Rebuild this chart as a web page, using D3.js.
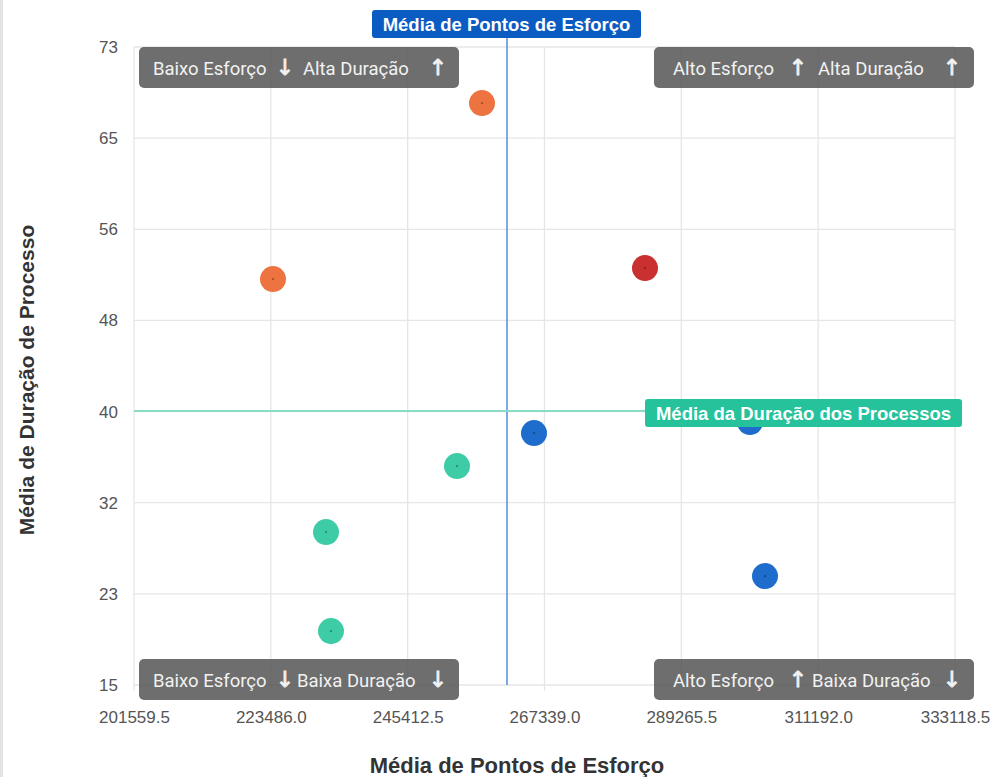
<!DOCTYPE html>
<html>
<head>
<meta charset="utf-8">
<script src="https://cdn.jsdelivr.net/npm/d3@7"></script>
<style>
  body { margin: 0; background: #fff; }
  svg { display: block; font-family: "Liberation Sans", Arial, sans-serif; }
  .tick text { fill: #555; font-size: 17px; font-family: "Liberation Sans", Arial, sans-serif; }
  .grid line { stroke: #e6e6e6; stroke-width: 1.3; }
</style>
</head>
<body>
<div id="chartDiv"></div>
<script>
// data
var xTicks = [201559.5, 223486.0, 245412.5, 267339.0, 289265.5, 311192.0, 333118.5];
var yTickLabels = [15, 23, 32, 40, 48, 56, 65, 73];
var pontos  = [257324, 223833, 283443, 265656, 300270, 302672, 253318, 232326, 233127];
var duracao = [67.9, 51.9, 52.9, 37.9, 38.9, 24.9, 34.9, 28.9, 19.9];
var grupo   = ["orange", "orange", "red", "blue", "blue", "blue", "green", "green", "green"];
var mediaPontos = 261330;
var mediaDuracao = 39.9;
// quadrant labels: [esforço text, arrow, duração text, arrow]
var quadrantes = [
  ["Baixo Esforço", "\u2193", "Alta Duração", "\u2191"],
  ["Alto Esforço", "\u2191", "Alta Duração", "\u2191"],
  ["Baixo Esforço", "\u2193", "Baixa Duração", "\u2193"],
  ["Alto Esforço", "\u2191", "Baixa Duração", "\u2193"]
];

var colors = { orange: "#ed7440", red: "#c9302f", blue: "#1e6ccb", green: "#3dcca6" };

var SVGwidth = 995, SVGheight = 777;
var plotLeft = 134, plotRight = 955, plotTop = 47, plotBottom = 685;

var svg = d3.select("#chartDiv").append("svg")
  .attr("width", SVGwidth)
  .attr("height", SVGheight);

// left frame edge
svg.append("rect").attr("x", 0).attr("y", 0).attr("width", 3).attr("height", SVGheight)
  .style("fill", "#e3e3e3");

var x = d3.scaleLinear().domain([xTicks[0], xTicks[xTicks.length - 1]]).range([plotLeft, plotRight]);
var y = d3.scaleLinear().domain([15, 73]).range([plotBottom, plotTop]);

// evenly spaced y ticks (labels are rounded)
var yTickVals = d3.range(8).map(function (i) { return 15 + i * 58 / 7; });

// grid
svg.append("g").attr("class", "grid")
  .selectAll("line").data(xTicks).enter().append("line")
  .attr("x1", d => x(d)).attr("x2", d => x(d))
  .attr("y1", plotTop).attr("y2", plotBottom + 6);
svg.append("g").attr("class", "grid")
  .selectAll("line").data(yTickVals).enter().append("line")
  .attr("x1", plotLeft).attr("x2", plotRight)
  .attr("y1", d => y(d)).attr("y2", d => y(d));

// axes
var xAxis = d3.axisBottom(x).tickValues(xTicks).tickSize(0).tickPadding(26)
  .tickFormat(d3.format(".1f"));
svg.append("g").attr("transform", "translate(0," + plotBottom + ")").call(xAxis)
  .call(g => g.select(".domain").remove());

var yAxis = d3.axisLeft(y).tickValues(yTickVals).tickSize(0).tickPadding(16)
  .tickFormat((d, i) => yTickLabels[i]);
svg.append("g").attr("transform", "translate(" + plotLeft + ",0)").call(yAxis)
  .call(g => g.select(".domain").remove());

// axis titles
svg.append("text")
  .attr("x", 517).attr("y", 773)
  .attr("text-anchor", "middle")
  .style("font-size", "22px").style("font-weight", "bold").style("fill", "#333")
  .text("Média de Pontos de Esforço");
svg.append("text")
  .attr("transform", "translate(34,380) rotate(-90)")
  .attr("text-anchor", "middle")
  .style("font-size", "21px").style("font-weight", "bold").style("fill", "#333")
  .text("Média de Duração de Processo");

// mean lines
svg.append("line")
  .attr("x1", x(mediaPontos)).attr("x2", x(mediaPontos))
  .attr("y1", 22).attr("y2", plotBottom)
  .style("stroke", "#4f8ddc").style("stroke-width", 1.5);
svg.append("line")
  .attr("x1", plotLeft).attr("x2", plotRight)
  .attr("y1", y(mediaDuracao)).attr("y2", y(mediaDuracao))
  .style("stroke", "#8adcc6").style("stroke-width", 2);

// points
var pts = svg.append("g");
pontos.forEach(function (p, i) {
  pts.append("circle")
    .attr("cx", x(p)).attr("cy", y(duracao[i]))
    .attr("r", 13)
    .style("fill", colors[grupo[i]]);
  pts.append("circle")
    .attr("cx", x(p)).attr("cy", y(duracao[i]))
    .attr("r", 1.2)
    .style("fill", "#000").style("opacity", 0.3);
});

// mean labels
function labelBox(bx, by, w, txt, fill) {
  var g = svg.append("g");
  g.append("rect")
    .attr("x", bx).attr("y", by).attr("width", w).attr("height", 28)
    .attr("rx", 3)
    .style("fill", fill);
  g.append("text")
    .attr("x", bx + w / 2).attr("y", by + 21)
    .attr("text-anchor", "middle")
    .style("font-size", "18.5px").style("font-weight", "bold").style("fill", "#fff")
    .text(txt);
}
labelBox(372, 10, 269, "Média de Pontos de Esforço", "#0a5cc2");
labelBox(645, y(mediaDuracao) - 12, 317, "Média da Duração dos Processos", "#25c29b");

// quadrant boxes
var qBox = [[139, 47], [654, 47], [139, 659], [654, 659]];
// text x offsets inside the box for: label1, arrow1, label2, arrow2
var qOff = [[14, 146, 164, 299], [19, 144, 164, 298], [14, 146, 158, 299], [19, 144, 158, 298]];
quadrantes.forEach(function (q, i) {
  var bx = qBox[i][0], by = qBox[i][1];
  var g = svg.append("g");
  g.append("rect")
    .attr("x", bx).attr("y", by)
    .attr("width", 320).attr("height", 41)
    .attr("rx", 5)
    .style("fill", "#555").style("opacity", 0.85);
  q.forEach(function (t, j) {
    var isArrow = (j % 2 == 1);
    g.append("text")
      .attr("x", bx + qOff[i][j]).attr("y", by + 28)
      .attr("text-anchor", isArrow ? "middle" : "start")
      .style("font-family", isArrow ? "'DejaVu Sans', sans-serif" : "Roboto, sans-serif")
      .style("font-size", isArrow ? "22px" : "18.5px")
      .style("fill", "#f2f2f2")
      .style("stroke", isArrow ? "#f2f2f2" : "none")
      .style("stroke-width", isArrow ? 0.8 : 0)
      .text(t);
  });
});
</script>
</body>
</html>
